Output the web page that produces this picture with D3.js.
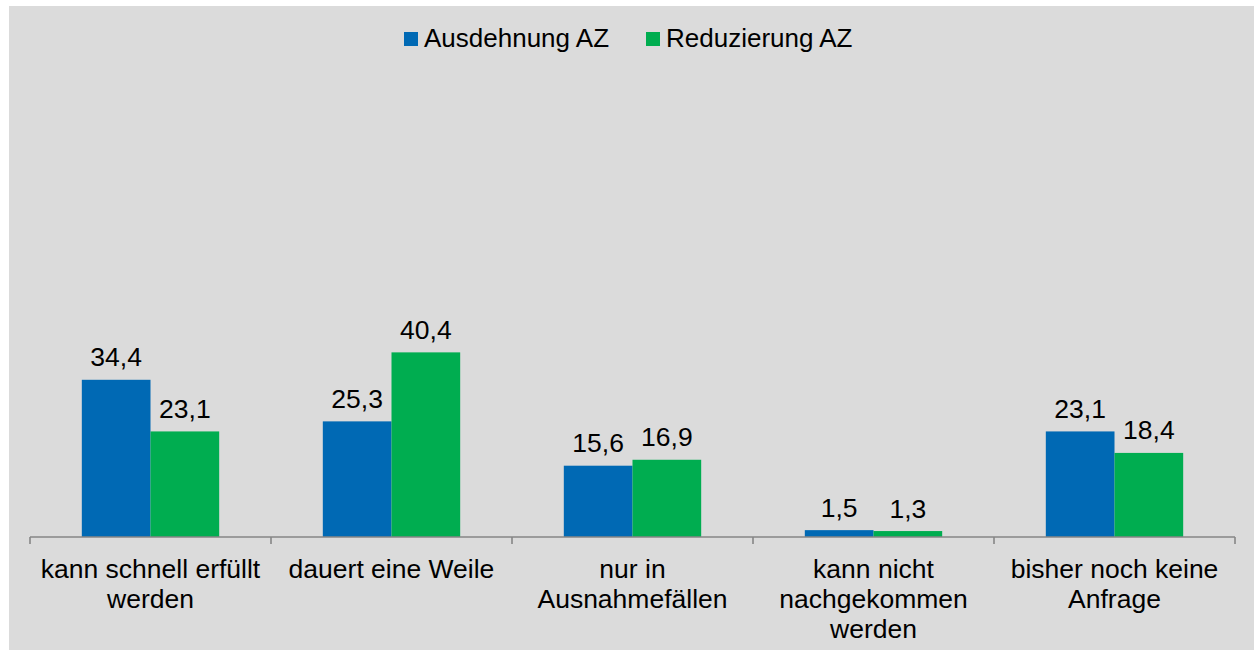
<!DOCTYPE html>
<html>
<head>
<meta charset="utf-8">
<script src="https://cdn.jsdelivr.net/npm/d3@7"></script>
<style>
  body { margin: 0; background: #fff; }
  svg { display: block; font-family: "Liberation Sans", Arial, sans-serif; }
</style>
</head>
<body>
<div id="chart"></div>
<script>
// categories, split into lines the way the original wraps them
const categories = [
    ["kann schnell erfüllt", "werden"],
    ["dauert eine Weile"],
    ["nur in", "Ausnahmefällen"],
    ["kann nicht", "nachgekommen", "werden"],
    ["bisher noch keine", "Anfrage"]
];
const seriesNames = ["Ausdehnung AZ", "Reduzierung AZ"];
const ausdehnung = [34.4, 25.3, 15.6, 1.5, 23.1];
const reduzierung = [23.1, 40.4, 16.9, 1.3, 18.4];
const colors = ["#0069b4", "#00ad50"];

const width = 1254, height = 650;
const svg = d3.select('#chart').append('svg')
    .attr('width', width)
    .attr('height', height);

// grey chart area
svg.append('rect')
    .attr('x', 9).attr('y', 6)
    .attr('width', width - 9).attr('height', height - 6)
    .attr('fill', '#dbdbdb');

const idx = d3.range(categories.length);
const x0 = d3.scaleBand()
    .domain(idx)
    .range([30, 1235])
    .paddingInner(0.43)
    .paddingOuter(0.215);
const x1 = d3.scaleBand()
    .domain(d3.range(seriesNames.length))
    .range([0, x0.bandwidth()]);
const y = d3.scaleLinear().domain([0, 100]).range([537, 80]);

const series = [ausdehnung, reduzierung];
const rows = idx.map(i => series.map((s, k) => ({ i, k, v: s[i] })));

const groups = svg.append('g')
    .selectAll('g')
    .data(rows)
    .join('g')
    .attr('transform', (d, i) => `translate(${x0(i)},0)`);

groups.selectAll('rect')
    .data(d => d)
    .join('rect')
    .attr('x', d => x1(d.k))
    .attr('y', d => y(d.v))
    .attr('width', x1.bandwidth())
    .attr('height', d => y(0) - y(d.v))
    .attr('fill', d => colors[d.k]);

groups.selectAll('text')
    .data(d => d)
    .join('text')
    .attr('x', d => x1(d.k) + x1.bandwidth() / 2)
    .attr('y', d => y(d.v) - 13.5)
    .attr('text-anchor', 'middle')
    .attr('font-size', 26.5)
    .attr('fill', '#000')
    .text(d => d.v.toFixed(1).replace('.', ','));

// category axis with ticks between groups
const [r0, r1] = x0.range();
const axis = svg.append('g').attr('stroke', '#868686').attr('stroke-width', 1.6);
axis.append('line')
    .attr('x1', r0).attr('x2', r1)
    .attr('y1', y(0)).attr('y2', y(0));
axis.selectAll('line.tick')
    .data(d3.range(categories.length + 1))
    .join('line')
    .attr('class', 'tick')
    .attr('x1', i => r0 + i * x0.step())
    .attr('x2', i => r0 + i * x0.step())
    .attr('y1', y(0)).attr('y2', y(0) + 7);

svg.append('g')
    .selectAll('text')
    .data(categories)
    .join('text')
    .attr('text-anchor', 'middle')
    .attr('font-size', 26.5)
    .attr('fill', '#000')
    .each(function (lines, i) {
        d3.select(this).selectAll('tspan')
            .data(lines)
            .join('tspan')
            .attr('x', x0(i) + x0.bandwidth() / 2)
            .attr('y', (l, j) => y(0) + 41 + j * 30)
            .text(l => l);
    });

// legend
const legendX = [404, 646];
const legend = svg.append('g')
    .selectAll('g')
    .data(seriesNames)
    .join('g')
    .attr('transform', (d, i) => `translate(${legendX[i]},32)`);
legend.append('rect')
    .attr('width', 14).attr('height', 14)
    .attr('fill', (d, i) => colors[i]);
legend.append('text')
    .attr('x', 20).attr('y', 15)
    .attr('font-size', 26)
    .attr('fill', '#000')
    .text(d => d);
</script>
</body>
</html>
